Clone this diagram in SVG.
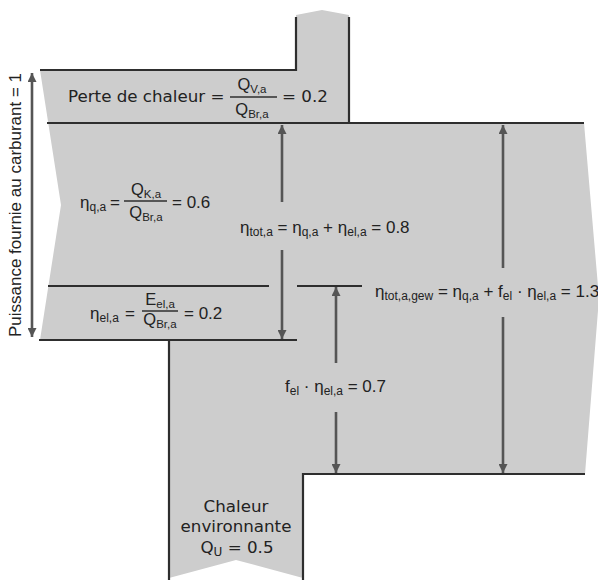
<svg xmlns="http://www.w3.org/2000/svg" width="598" height="580" viewBox="0 0 598 580">
<defs>
<style>
.shape{fill:#cdcdcd;stroke:none}
.edge{stroke:#2e2e2e;stroke-width:2.2;fill:none}
.frac{stroke:#2e2e2e;stroke-width:1.3}
.arr{stroke:#555;stroke-width:2.6;fill:none}
.m{font-family:"Liberation Sans",Arial,sans-serif;font-size:17px;fill:#222}
.s{font-size:12px}
.f{font-family:"Liberation Sans",Arial,sans-serif;font-size:16.5px;fill:#222}
.fs{font-size:11.5px}
.dv{font-family:"DejaVu Sans",Verdana,sans-serif;font-size:16.7px;fill:#222}
</style>
<marker id="ah" viewBox="0 0 10 10" refX="10" refY="5" markerWidth="9" markerHeight="9" markerUnits="userSpaceOnUse" orient="auto-start-reverse">
<path d="M0,0 L10,5 L0,10 Z" fill="#555"/>
</marker>
</defs>
<g id="flow-shape">
<path class="shape" d="M40,70 L296,70 L296,15 L322,10 L349,15 L349,123 L584,123 L599,298 L585,474 L303,474 L303,578 L236,560 L169,578 L169,340 L40,340 L61,205 Z"/>
<path class="edge" d="M40,70 L296,70 L296,17 M349,17 L349,123 M47,123 L584,123 M48,286 L269,286 M297,286 L362,286 M39,340 L297,340 M169,340 L169,580 M303,580 L303,474 L585,474"/>
</g>
<g id="connectors">
<line class="arr" x1="32" y1="73" x2="32" y2="337" marker-start="url(#ah)" marker-end="url(#ah)"/>
<line class="arr" x1="282" y1="202" x2="282" y2="125" marker-end="url(#ah)"/>
<line class="arr" x1="282" y1="250" x2="282" y2="339" marker-end="url(#ah)"/>
<line class="arr" x1="336" y1="363" x2="336" y2="287" marker-end="url(#ah)"/>
<line class="arr" x1="336" y1="412" x2="336" y2="473" marker-end="url(#ah)"/>
<line class="arr" x1="503" y1="268" x2="503" y2="125" marker-end="url(#ah)"/>
<line class="arr" x1="503" y1="317" x2="503" y2="473" marker-end="url(#ah)"/>
</g>
<g id="label-input">
<text class="m" transform="translate(21,205) rotate(-90)" text-anchor="middle">Puissance fournie au carburant = 1</text>
</g>
<g id="node-perte">
<text class="dv" x="68" y="102">Perte de chaleur =</text>
<text class="f" x="252" y="90" text-anchor="middle">Q<tspan class="fs" dy="3">V,a</tspan></text>
<line class="frac" x1="230" y1="97" x2="277" y2="97"/>
<text class="f" x="252" y="115" text-anchor="middle">Q<tspan class="fs" dy="3">Br,a</tspan></text>
<text class="dv" x="282" y="102">= 0.2</text>
</g>
<g id="node-etaq">
<text class="m" x="80" y="208">η<tspan class="s" dy="3">q,a</tspan></text>
<text class="m" x="110" y="208">=</text>
<text class="f" x="146" y="195" text-anchor="middle">Q<tspan class="fs" dy="3">K,a</tspan></text>
<line class="frac" x1="124" y1="201" x2="167" y2="201"/>
<text class="f" x="146" y="218" text-anchor="middle">Q<tspan class="fs" dy="3">Br,a</tspan></text>
<text class="m" x="172" y="208">= 0.6</text>
</g>
<g id="node-etael">
<text class="m" x="90" y="319">η<tspan class="s" dy="3">el,a</tspan></text>
<text class="m" x="125" y="319">=</text>
<text class="f" x="160" y="305" text-anchor="middle">E<tspan class="fs" dy="3">el,a</tspan></text>
<line class="frac" x1="142" y1="311" x2="178" y2="311"/>
<text class="f" x="160" y="325" text-anchor="middle">Q<tspan class="fs" dy="3">Br,a</tspan></text>
<text class="m" x="184" y="319">= 0.2</text>
</g>
<g id="node-etatot">
<text class="m" x="240" y="233">η<tspan class="s" dy="3">tot,a</tspan><tspan dy="-3"> = η</tspan><tspan class="s" dy="3">q,a</tspan><tspan dy="-3"> + η</tspan><tspan class="s" dy="3">el,a</tspan><tspan dy="-3"> = 0.8</tspan></text>
</g>
<g id="node-etagew">
<text class="m" x="375" y="297">η<tspan class="s" dy="3">tot,a,gew</tspan><tspan dy="-3"> = η</tspan><tspan class="s" dy="3">q,a</tspan><tspan dy="-3"> + f</tspan><tspan class="s" dy="3">el</tspan><tspan dy="-3"> · η</tspan><tspan class="s" dy="3">el,a</tspan><tspan dy="-3"> = 1.3</tspan></text>
</g>
<g id="node-fel">
<text class="m" x="285" y="392">f<tspan class="s" dy="3">el</tspan><tspan dy="-3"> · η</tspan><tspan class="s" dy="3">el,a</tspan><tspan dy="-3"> = 0.7</tspan></text>
</g>
<g id="node-chaleur">
<text class="dv" text-anchor="middle" x="236" y="512">Chaleur</text>
<text class="dv" text-anchor="middle" x="236" y="532">environnante</text>
<text class="dv" text-anchor="middle" x="237" y="553">Q<tspan font-size="12" dy="3">U</tspan><tspan dy="-3"> = 0.5</tspan></text>
</g>
</svg>
